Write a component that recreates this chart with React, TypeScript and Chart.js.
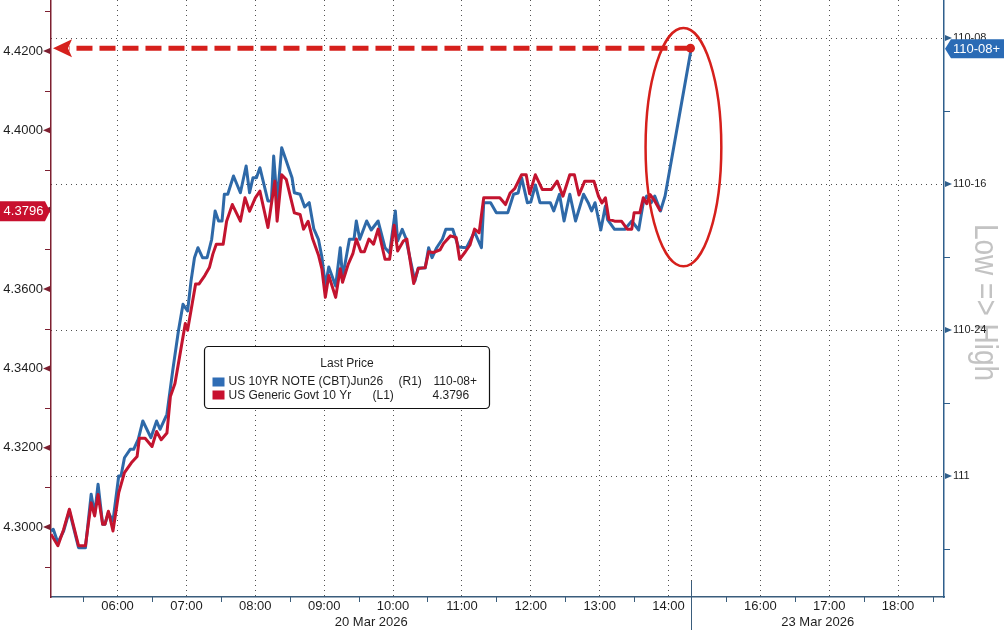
import { useEffect, useRef } from "react";
import { Chart, registerables } from "chart.js";

Chart.register(...registerables);

// ---------------- data ----------------
// US Generic Govt 10 Yr yield (left axis), 20 Mar 2026
const redTimes = [
  "05:02", "05:08", "05:13", "05:18", "05:26", "05:32", "05:37", "05:40", "05:43", "05:47",
  "05:49", "05:52", "05:56", "06:01", "06:06", "06:12", "06:17", "06:19", "06:24", "06:30",
  "06:34", "06:38", "06:43", "06:46", "06:50", "06:53", "06:59", "07:01", "07:05", "07:08",
  "07:11", "07:16", "07:20", "07:23", "07:26", "07:32", "07:35", "07:40", "07:47", "07:51",
  "07:55", "08:00", "08:04", "08:11", "08:17", "08:19", "08:23", "08:27", "08:34", "08:39",
  "08:42", "08:46", "08:50", "08:55", "08:58", "09:01", "09:04", "09:10", "09:14", "09:16",
  "09:21", "09:25", "09:28", "09:32", "09:35", "09:39", "09:43", "09:47", "09:53", "09:57",
  "10:01", "10:04", "10:09", "10:12", "10:18", "10:22", "10:28", "10:31", "10:35", "10:41",
  "10:44", "10:50", "10:55", "10:58", "11:03", "11:07", "11:11", "11:15", "11:19", "11:33",
  "11:38", "11:42", "11:46", "11:52", "11:56", "11:59", "12:04", "12:10", "12:18", "12:23",
  "12:28", "12:34", "12:38", "12:42", "12:47", "12:55", "12:59", "13:02", "13:05", "13:08",
  "13:13", "13:19", "13:24", "13:28", "13:30", "13:35", "13:38", "13:41", "13:44", "13:48",
  "13:53",
];
const redValues = [
  4.2982, 4.2953, 4.2994, 4.3045, 4.2953, 4.2953, 4.3061, 4.3028, 4.3082, 4.3007,
  4.3007, 4.3040, 4.2990, 4.3086, 4.3137, 4.3162, 4.3178, 4.3224, 4.3224, 4.3203,
  4.3241, 4.3220, 4.3237, 4.3329, 4.3362, 4.3412, 4.3513, 4.3496, 4.3563, 4.3613,
  4.3613, 4.3634, 4.3654, 4.3688, 4.3713, 4.3713, 4.3771, 4.3813, 4.3771, 4.3830,
  4.3796, 4.3830, 4.3847, 4.3755, 4.3872, 4.3771, 4.3888, 4.3876, 4.3792, 4.3788,
  4.3751, 4.3771, 4.3726, 4.3686, 4.3651, 4.3579, 4.3634, 4.3579, 4.3651, 4.3617,
  4.3663, 4.3689, 4.3726, 4.3694, 4.3694, 4.3726, 4.3713, 4.3751, 4.3675, 4.3675,
  4.3761, 4.3696, 4.3721, 4.3726, 4.3614, 4.3652, 4.3654, 4.3694, 4.3692, 4.3699,
  4.3715, 4.3734, 4.3730, 4.3675, 4.3694, 4.3711, 4.3751, 4.3742, 4.3830, 4.3830,
  4.3813, 4.3842, 4.3853, 4.3888, 4.3888, 4.3840, 4.3888, 4.3851, 4.3851, 4.3872,
  4.3834, 4.3888, 4.3888, 4.3837, 4.3872, 4.3872, 4.3834, 4.3817, 4.3830, 4.3776,
  4.3771, 4.3771, 4.3751, 4.3751, 4.3792, 4.3792, 4.3830, 4.3815, 4.3838, 4.3822,
  4.3796,
];

// US 10YR NOTE (CBT) Jun26 price (right axis, inverted), 20 Mar 2026
const blueTimes = [
  "05:02", "05:04", "05:08", "05:13", "05:18", "05:26", "05:32", "05:37", "05:40", "05:43",
  "05:47", "05:49", "05:52", "05:56", "06:01", "06:03", "06:06", "06:11", "06:14", "06:18",
  "06:22", "06:29", "06:34", "06:37", "06:43", "06:48", "06:53", "06:57", "07:01", "07:04",
  "07:07", "07:10", "07:14", "07:18", "07:22", "07:25", "07:28", "07:31", "07:33", "07:36",
  "07:41", "07:47", "07:52", "07:55", "07:58", "08:01", "08:04", "08:11", "08:14", "08:16",
  "08:19", "08:23", "08:27", "08:32", "08:34", "08:39", "08:43", "08:47", "08:51", "08:55",
  "08:58", "09:01", "09:04", "09:10", "09:14", "09:16", "09:22", "09:26", "09:28", "09:31",
  "09:37", "09:41", "09:47", "09:53", "09:57", "10:02", "10:04", "10:08", "10:11", "10:19",
  "10:22", "10:28", "10:31", "10:34", "10:38", "10:43", "10:46", "10:52", "10:57", "11:04",
  "11:11", "11:17", "11:19", "11:25", "11:30", "11:40", "11:45", "11:49", "11:52", "11:57",
  "12:00", "12:04", "12:08", "12:17", "12:20", "12:25", "12:29", "12:34", "12:39", "12:46",
  "12:50", "12:53", "12:56", "13:01", "13:05", "13:07", "13:13", "13:22", "13:28", "13:34",
  "13:38", "13:41", "13:45", "13:48", "13:53", "13:57",
];
const blueValues = [
  111.0942, 111.0913, 111.1142, 111.0942, 111.0599, 111.1228, 111.1228, 111.0313, 111.0656, 111.0142,
  111.0827, 111.0827, 111.0628, 111.0771, 111.0, 111.0, 110.9687, 110.9543, 110.9543, 110.9372,
  110.9058, 110.9344, 110.9058, 110.92, 110.8943, 110.8202, 110.7517, 110.706, 110.7175, 110.6661,
  110.6262, 110.6091, 110.6262, 110.6262, 110.5947, 110.5462, 110.5634, 110.5634, 110.5176, 110.5176,
  110.4863, 110.5149, 110.4692, 110.5149, 110.4892, 110.4892, 110.4721, 110.5291, 110.5291, 110.4521,
  110.5291, 110.4378, 110.4606, 110.4892, 110.5149, 110.5176, 110.5394, 110.532, 110.577, 110.5947,
  110.625, 110.6747, 110.6421, 110.6747, 110.6091, 110.6604, 110.5947, 110.5947, 110.5634, 110.5947,
  110.5634, 110.5788, 110.5634, 110.6091, 110.6182, 110.5462, 110.5976, 110.5776, 110.592, 110.6661,
  110.6438, 110.6438, 110.6091, 110.6262, 110.6091, 110.5942, 110.5776, 110.5776, 110.6079, 110.6091,
  110.5822, 110.6091, 110.532, 110.532, 110.5491, 110.5491, 110.5176, 110.5154, 110.4892, 110.532,
  110.5308, 110.5017, 110.532, 110.532, 110.5462, 110.5176, 110.5634, 110.5176, 110.5634, 110.5176,
  110.532, 110.5462, 110.532, 110.5788, 110.5377, 110.5616, 110.5776, 110.5776, 110.5634, 110.5788,
  110.532, 110.5205, 110.532, 110.5205, 110.5462, 110.5205,
];
// 23 Mar 2026 session
const blueNextDayTimes = ["15:00"];
const blueNextDayValues = [110.265625];

const seriesNames = ["US 10YR NOTE (CBT)Jun26", "US Generic Govt 10 Yr"];
const seriesTags = ["(R1)", "(L1)"];
const legendTitle = "Last Price";
const dayLabels = ["20 Mar 2026", "23 Mar 2026"];

const SESSION_OPEN = "05:00";
const DAY1_CLOSE = "14:20";
const DAY2_OPEN = "15:00";
const AXIS_FROM = "05:02";
const AXIS_TO_DAY2 = "18:40";

const day1HourTicks = ["06:00", "07:00", "08:00", "09:00", "10:00", "11:00", "12:00", "13:00", "14:00"];
const day2HourTicks = ["16:00", "17:00", "18:00"];
const day1HalfHourTicks = ["05:30", "06:30", "07:30", "08:30", "09:30", "10:30", "11:30", "12:30", "13:30"];
const day2HalfHourTicks = ["15:30", "16:30", "17:30", "18:30"];

const yieldTicks = [4.29, 4.30, 4.31, 4.32, 4.33, 4.34, 4.35, 4.36, 4.37, 4.38, 4.39, 4.40, 4.41, 4.42, 4.43];
const yieldRange = [4.28237, 4.43286];
const priceTicks = [110.25, 110.375, 110.5, 110.625, 110.75, 110.875, 111, 111.125];
const priceRange = [110.18493, 111.20719];
const axisNote = "Low => High";

// highlight ellipse around the final move (in axis units)
const ellipseCenter = { time: "14:13", price: 110.437 };
const ellipseHalf = { minutes: 33, price: 0.204 };

// ---------------- helpers ----------------
const toMin = (t: string) => {
  const [h, m] = t.split(":").map(Number);
  return h * 60 + m;
};
const BREAK = toMin(DAY1_CLOSE) - toMin(SESSION_OPEN);
const day1X = (t: string) => toMin(t) - toMin(SESSION_OPEN);
const day2X = (t: string) => BREAK + toMin(t) - toMin(DAY2_OPEN);

const fmt32 = (p: number) => {
  const whole = Math.floor(p + 1e-9);
  const n64 = Math.round((p - whole) * 64);
  if (n64 === 0) return String(whole);
  const n32 = Math.floor(n64 / 2);
  return `${whole}-${String(n32).padStart(2, "0")}${n64 % 2 === 1 ? "+" : ""}`;
};
const isMajorYield = (v: number) => Math.round(v * 100) % 2 === 0;
const isMajorPrice = (p: number) => Math.abs(p * 4 - Math.round(p * 4)) < 1e-6;

const xMajorValues = [...day1HourTicks.map(day1X), ...day2HourTicks.map(day2X)];
const xMinorValues = [...day1HalfHourTicks.map(day1X), ...day2HalfHourTicks.map(day2X)];
const xLabelByValue = new Map<number, string>();
day1HourTicks.forEach((t) => xLabelByValue.set(day1X(t), t));
day2HourTicks.forEach((t) => xLabelByValue.set(day2X(t), t));
const xTickValues = [...xMajorValues, ...xMinorValues, BREAK].sort((p, q) => p - q);
const xGridValues = new Set([...xMajorValues, BREAK]);

const redData = redTimes.map((t, i) => ({ x: day1X(t), y: redValues[i] }));
const blueData = [
  ...blueTimes.map((t, i) => ({ x: day1X(t), y: blueValues[i] })),
  ...blueNextDayTimes.map((t, i) => ({ x: day2X(t), y: blueNextDayValues[i] })),
];
const lastRed = redData[redData.length - 1];
const lastBlue = blueData[blueData.length - 1];

// ---------------- styles ----------------
const FONT = "'Liberation Sans', Arial, sans-serif";
const RED_LINE = "#c3142f";
const BLUE_LINE = "#2e69a8";
const LEG_RED = "#c8102e";
const LEG_BLUE = "#2f6db5";
const BADGE_RED = "#c8102e";
const BADGE_BLUE = "#2a6bb5";
const ANNOT_RED = "#d6201c";
const GRID = "#505050";
const LEFT_AXIS = "#7d1f30";
const RIGHT_AXIS = "#2f5f8c";
const X_AXIS = "#3a5d7c";
const TEXT = "#1e1e1e";

const zeroPad = (s: any) => {
  s.paddingTop = 0;
  s.paddingBottom = 0;
  s.paddingLeft = 0;
  s.paddingRight = 0;
};

const overlayPlugin = {
  id: "overlay",
  beforeDraw(chart: any) {
    const { ctx, chartArea: a } = chart;
    ctx.save();
    ctx.translate(a.right + 31, (a.top + a.bottom) / 2 + 4);
    ctx.rotate(Math.PI / 2);
    ctx.scale(1, 1.2);
    ctx.font = `28px ${FONT}`;
    ctx.fillStyle = "#c3c3c3";
    ctx.textAlign = "center";
    ctx.textBaseline = "alphabetic";
    ctx.fillText(axisNote, 0, 0);
    ctx.restore();
  },
  afterDraw(chart: any) {
    const { ctx, chartArea: a } = chart;
    const x = chart.scales.x;
    const yL = chart.scales.yL;
    const yR = chart.scales.yR;
    const W = chart.width;
    const H = chart.height;
    ctx.save();

    // left axis tick marks
    ctx.fillStyle = LEFT_AXIS;
    ctx.strokeStyle = LEFT_AXIS;
    ctx.lineWidth = 1;
    for (const v of yieldTicks) {
      const py = yL.getPixelForValue(v);
      if (isMajorYield(v)) {
        ctx.beginPath();
        ctx.moveTo(a.left - 8, py);
        ctx.lineTo(a.left - 1, py - 3);
        ctx.lineTo(a.left - 1, py + 3);
        ctx.closePath();
        ctx.fill();
      } else {
        const yy = Math.round(py) + 0.5;
        ctx.beginPath();
        ctx.moveTo(a.left - 6, yy);
        ctx.lineTo(a.left, yy);
        ctx.stroke();
      }
    }
    // right axis tick marks
    ctx.fillStyle = RIGHT_AXIS;
    ctx.strokeStyle = RIGHT_AXIS;
    for (const p of priceTicks) {
      const py = yR.getPixelForValue(p);
      if (isMajorPrice(p)) {
        ctx.beginPath();
        ctx.moveTo(a.right + 8, py);
        ctx.lineTo(a.right + 1, py - 3);
        ctx.lineTo(a.right + 1, py + 3);
        ctx.closePath();
        ctx.fill();
      } else {
        const yy = Math.round(py) + 0.5;
        ctx.beginPath();
        ctx.moveTo(a.right, yy);
        ctx.lineTo(a.right + 6, yy);
        ctx.stroke();
      }
    }
    // x half-hour ticks
    ctx.strokeStyle = X_AXIS;
    for (const v of xMinorValues) {
      const px = Math.round(x.getPixelForValue(v)) + 0.5;
      ctx.beginPath();
      ctx.moveTo(px, a.bottom);
      ctx.lineTo(px, a.bottom + 5);
      ctx.stroke();
    }
    // session break
    const bx = Math.round(x.getPixelForValue(BREAK)) + 0.5;
    ctx.beginPath();
    ctx.moveTo(bx, a.bottom - 16);
    ctx.lineTo(bx, H);
    ctx.stroke();

    // date labels
    ctx.font = `13px ${FONT}`;
    ctx.fillStyle = TEXT;
    ctx.textAlign = "center";
    ctx.textBaseline = "middle";
    ctx.fillText(dayLabels[0], (a.left + bx) / 2, a.bottom + 25.5);
    ctx.fillText(dayLabels[1], (bx + a.right) / 2, a.bottom + 25.5);

    // legend box
    const lx = a.left + 153.5;
    const ly = a.top + 346.5;
    const lw = 285;
    const lh = 62;
    ctx.beginPath();
    ctx.roundRect(lx, ly, lw, lh, 4);
    ctx.fillStyle = "#ffffff";
    ctx.fill();
    ctx.strokeStyle = "#111111";
    ctx.lineWidth = 1.2;
    ctx.stroke();
    ctx.font = `12px ${FONT}`;
    ctx.fillStyle = TEXT;
    ctx.textAlign = "center";
    ctx.fillText(legendTitle, lx + lw / 2, ly + 17);
    ctx.textAlign = "left";
    ctx.fillStyle = LEG_BLUE;
    ctx.fillRect(lx + 8, ly + 31, 12, 9);
    ctx.fillStyle = LEG_RED;
    ctx.fillRect(lx + 8, ly + 44, 12, 9);
    ctx.fillStyle = TEXT;
    ctx.fillText(seriesNames[0], lx + 24, ly + 35.5);
    ctx.fillText(seriesTags[0], lx + 194, ly + 35.5);
    ctx.fillText(fmt32(lastBlue.y), lx + 229, ly + 35.5);
    ctx.fillText(seriesNames[1], lx + 24, ly + 49);
    ctx.fillText(seriesTags[1], lx + 168, ly + 49);
    ctx.fillText(lastRed.y.toFixed(4), lx + 228, ly + 49);

    // ellipse highlight
    const ex = x.getPixelForValue(day1X(ellipseCenter.time));
    const ey = yR.getPixelForValue(ellipseCenter.price);
    const rx = x.getPixelForValue(day1X(ellipseCenter.time) + ellipseHalf.minutes) - ex;
    const ry = yR.getPixelForValue(ellipseCenter.price + ellipseHalf.price) - ey;
    ctx.beginPath();
    ctx.ellipse(ex, ey, Math.abs(rx), Math.abs(ry), 0, 0, Math.PI * 2);
    ctx.strokeStyle = ANNOT_RED;
    ctx.lineWidth = 2.5;
    ctx.stroke();

    // dashed arrow from last price to left axis
    const px = x.getPixelForValue(lastBlue.x) - 1;
    const py = yR.getPixelForValue(lastBlue.y) + 1;
    ctx.beginPath();
    ctx.setLineDash([16, 7]);
    ctx.lineWidth = 5;
    ctx.moveTo(px, py);
    ctx.lineTo(a.left + 18, py);
    ctx.stroke();
    ctx.setLineDash([]);
    ctx.fillStyle = ANNOT_RED;
    ctx.beginPath();
    ctx.moveTo(a.left + 2, py);
    ctx.lineTo(a.left + 21, py - 9);
    ctx.lineTo(a.left + 17, py);
    ctx.lineTo(a.left + 21, py + 9);
    ctx.closePath();
    ctx.fill();
    ctx.beginPath();
    ctx.arc(px, py, 4.5, 0, Math.PI * 2);
    ctx.fill();

    // left badge (last yield)
    const ry0 = yL.getPixelForValue(lastRed.y);
    ctx.fillStyle = BADGE_RED;
    ctx.beginPath();
    ctx.moveTo(0, ry0 - 10);
    ctx.lineTo(a.left - 6, ry0 - 10);
    ctx.lineTo(a.left - 1, ry0);
    ctx.lineTo(a.left - 6, ry0 + 10);
    ctx.lineTo(0, ry0 + 10);
    ctx.closePath();
    ctx.fill();
    ctx.font = `13px ${FONT}`;
    ctx.fillStyle = "#ffffff";
    ctx.textAlign = "center";
    ctx.fillText(lastRed.y.toFixed(4), 23.5, ry0 + 0.5);

    // right badge (last price)
    const by0 = yR.getPixelForValue(lastBlue.y) + 1.5;
    ctx.fillStyle = BADGE_BLUE;
    ctx.beginPath();
    ctx.moveTo(a.right + 1, by0);
    ctx.lineTo(a.right + 7, by0 - 9.5);
    ctx.lineTo(W, by0 - 9.5);
    ctx.lineTo(W, by0 + 9.5);
    ctx.lineTo(a.right + 7, by0 + 9.5);
    ctx.closePath();
    ctx.fill();
    ctx.fillStyle = "#ffffff";
    ctx.textAlign = "left";
    ctx.fillText(fmt32(lastBlue.y), a.right + 9, by0 + 0.5);

    ctx.restore();
  },
};

export default function App() {
  const ref = useRef<HTMLCanvasElement>(null);

  useEffect(() => {
    const canvas = ref.current;
    if (!canvas) return;
    const chart = new Chart(canvas, {
      type: "line",
      data: {
        datasets: [
          {
            label: `${seriesNames[1]} ${seriesTags[1]}`,
            data: redData,
            yAxisID: "yL",
            borderColor: RED_LINE,
            borderWidth: 3,
            pointRadius: 0,
            tension: 0,
            borderJoinStyle: "round",
          },
          {
            label: `${seriesNames[0]} ${seriesTags[0]}`,
            data: blueData,
            yAxisID: "yR",
            borderColor: BLUE_LINE,
            borderWidth: 3,
            pointRadius: 0,
            tension: 0,
            borderJoinStyle: "round",
          },
        ],
      },
      options: {
        responsive: false,
        animation: false,
        devicePixelRatio: 1,
        layout: { padding: 0 },
        plugins: { legend: { display: false }, tooltip: { enabled: false } },
        scales: {
          x: {
            type: "linear",
            position: "bottom",
            min: day1X(AXIS_FROM),
            max: day2X(AXIS_TO_DAY2),
            afterBuildTicks: (s: any) => {
              s.ticks = xTickValues.map((v) => ({ value: v }));
            },
            afterFit: (s: any) => {
              s.height = 33;
              zeroPad(s);
            },
            ticks: {
              autoSkip: false,
              maxRotation: 0,
              padding: 2,
              color: TEXT,
              font: { family: FONT, size: 13 },
              callback: (v: any) => xLabelByValue.get(Number(v)) ?? "",
            },
            grid: {
              drawTicks: false,
              lineWidth: 1,
              color: (c: any) => (c.tick && xGridValues.has(c.tick.value) ? GRID : "rgba(0,0,0,0)"),
            },
            border: { display: true, color: X_AXIS, width: 1.5, dash: [1, 4] },
          },
          yL: {
            type: "linear",
            position: "left",
            min: yieldRange[0],
            max: yieldRange[1],
            afterBuildTicks: (s: any) => {
              s.ticks = yieldTicks.map((v) => ({ value: v }));
            },
            afterFit: (s: any) => {
              s.width = 51;
              zeroPad(s);
            },
            ticks: {
              autoSkip: false,
              padding: 8,
              color: TEXT,
              font: { family: FONT, size: 13 },
              callback: (v: any) => (isMajorYield(Number(v)) ? Number(v).toFixed(4) : ""),
            },
            grid: { drawOnChartArea: false, drawTicks: false },
            border: { display: true, color: LEFT_AXIS, width: 1.5 },
          },
          yR: {
            type: "linear",
            position: "right",
            reverse: true,
            min: priceRange[0],
            max: priceRange[1],
            afterBuildTicks: (s: any) => {
              s.ticks = priceTicks.map((v) => ({ value: v }));
            },
            afterFit: (s: any) => {
              s.width = 60;
              zeroPad(s);
            },
            ticks: {
              autoSkip: false,
              padding: 9,
              color: TEXT,
              font: { family: FONT, size: 11 },
              callback: (v: any) => (isMajorPrice(Number(v)) ? fmt32(Number(v)) : ""),
            },
            grid: {
              drawTicks: false,
              lineWidth: 1,
              color: (c: any) => (c.tick && isMajorPrice(c.tick.value) ? GRID : "rgba(0,0,0,0)"),
            },
            border: { display: true, color: RIGHT_AXIS, width: 1.5, dash: [1, 4] },
          },
        },
      },
      plugins: [overlayPlugin],
    } as any);
    return () => chart.destroy();
  }, []);

  return (
    <div style={{ position: "fixed", left: 0, top: 0, width: 1004, height: 630, background: "#ffffff" }}>
      <canvas ref={ref} width={1004} height={630} style={{ display: "block", width: 1004, height: 630 }} />
    </div>
  );
}
